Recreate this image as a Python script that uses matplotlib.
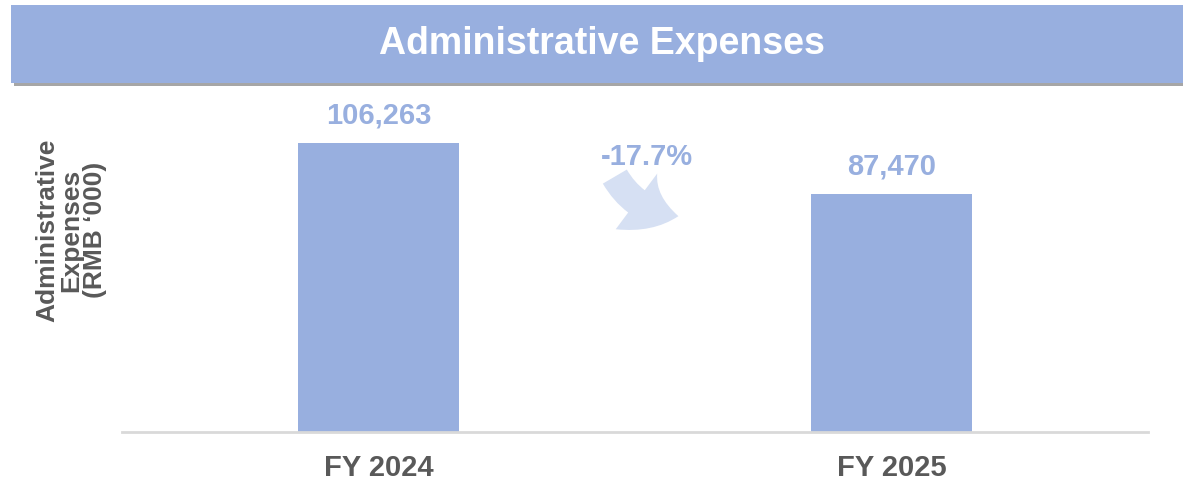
import numpy as np
import matplotlib
matplotlib.use("Agg")
import matplotlib.pyplot as plt
from matplotlib.patches import Rectangle, FancyArrowPatch

# Administrative expenses, RMB '000
years = ["FY 2024", "FY 2025"]
expenses = [106263, 87470]
change_label = "-17.7%"

bar_color = "#98AFDF"
text_gray = "#595959"
arrow_color = "#D6E0F3"

plt.rcParams["font.family"] = ["Liberation Sans", "DejaVu Sans"]

fig = plt.figure(figsize=(11.83, 4.94), dpi=100)

# Header band with a soft shadow underneath
fig.patches.append(Rectangle((0.012, 0.826), 0.99, 0.158, transform=fig.transFigure,
                             facecolor="#A6A6A6", edgecolor="none", zorder=0))
fig.patches.append(Rectangle((0.0093, 0.832), 0.991, 0.158, transform=fig.transFigure,
                             facecolor=bar_color, edgecolor="none", zorder=1))
fig.text(0.509, 0.910, "Administrative Expenses", ha="center", va="center",
         color="white", fontsize=27, fontweight="bold", zorder=2)

ax = fig.add_axes([122 / 1183, 1 - 432 / 494, 1026 / 1183, 337 / 494])
x = np.arange(len(years))
bars = ax.bar(x, expenses, width=0.312, color=bar_color, zorder=2)
ax.set_xlim(-0.5, 1.5)
ax.set_ylim(0, 123900)

for rect, val in zip(bars, expenses):
    ax.annotate(f"{val:,}", (rect.get_x() + rect.get_width() / 2, val),
                xytext=(0, 10), textcoords="offset points", ha="center", va="bottom",
                color=bar_color, fontsize=21, fontweight="bold")

# Percentage change with a curved arrow between the bars
ax.text(0.512, 0.816, change_label, transform=ax.transAxes, ha="center", va="center",
        color=bar_color, fontsize=21, fontweight="bold")
arrow = FancyArrowPatch((0.479, 0.765), (0.545, 0.64), transform=ax.transAxes,
                        connectionstyle="arc3,rad=0.28",
                        arrowstyle="simple,head_width=2.5,head_length=1.6,tail_width=1.0",
                        mutation_scale=20, color=arrow_color, linewidth=0, zorder=1)
ax.add_patch(arrow)

ax.set_xticks(x)
ax.set_xticklabels(years, fontsize=21, fontweight="bold", color=text_gray)
ax.tick_params(axis="x", length=0, pad=16)
ax.set_yticks([])
for side in ["top", "right", "left"]:
    ax.spines[side].set_visible(False)
ax.spines["bottom"].set_color("#D9D9D9")
ax.spines["bottom"].set_linewidth(2)

fig.text(0.060, 0.534, "Administrative\nExpenses\n(RMB \u2018000)", rotation=90,
         ha="center", va="center", fontsize=19, fontweight="bold", color=text_gray,
         linespacing=1.0)

fig.savefig("out.png", dpi=100)
